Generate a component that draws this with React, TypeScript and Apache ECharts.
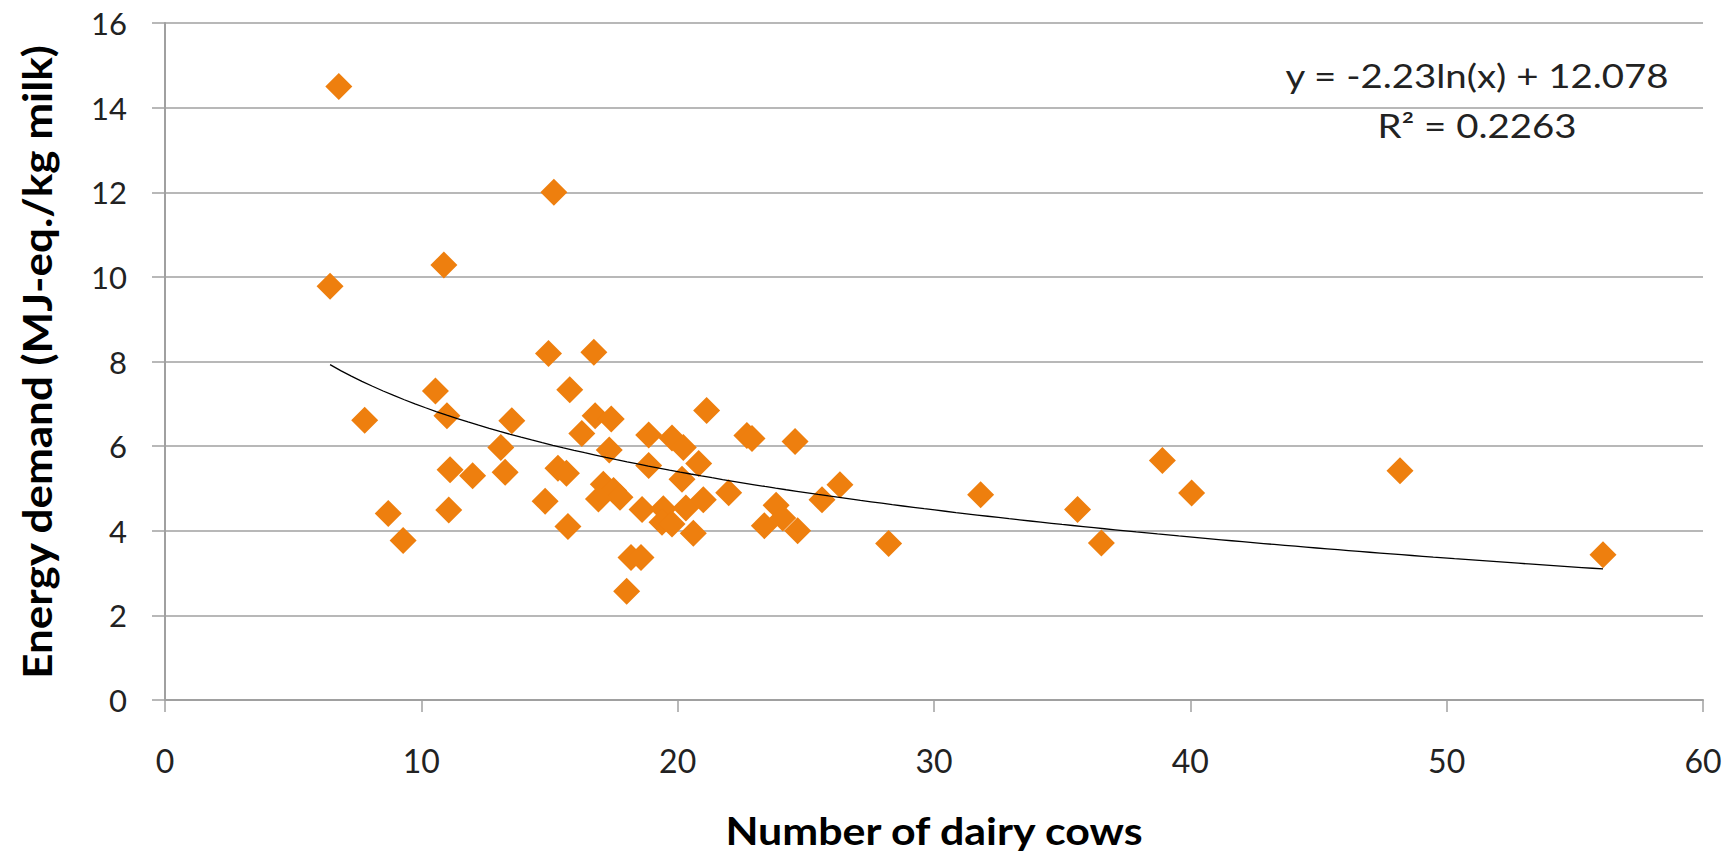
import React, { useEffect, useRef } from "react";
import * as echarts from "echarts";

const xTitle = "Number of dairy cows";
const yTitle = "Energy demand (MJ-eq./kg milk)";
const equationText = "y = -2.23ln(x) + 12.078";
const r2Text = "R² = 0.2263";

const cows: number[] = [
  6.78, 6.44, 15.17, 10.88, 14.96, 16.73, 10.55, 15.79, 7.79, 11.0,
  13.53, 16.78, 17.41, 16.26, 21.13, 18.87, 19.78, 20.22, 22.7, 22.9,
  24.58, 17.33, 13.1, 13.27, 11.12, 12.0, 15.33, 15.66, 18.87, 20.82,
  20.17, 17.1, 17.5, 17.75, 16.91, 14.83, 18.61, 19.44, 19.39, 19.78,
  20.32, 21.0, 21.99, 20.61, 15.72, 18.18, 18.57, 18.01, 26.33, 25.63,
  23.84, 24.1, 23.38, 24.68, 28.23, 31.82, 35.6, 36.53, 38.91, 40.05,
  48.18, 56.1, 11.07, 8.71, 9.29,
];
const energy: number[] = [
  14.5, 9.78, 12.0, 10.28, 8.19, 8.22, 7.3, 7.33, 6.61, 6.72,
  6.6, 6.72, 6.64, 6.3, 6.84, 6.26, 6.19, 5.97, 6.25, 6.18,
  6.11, 5.91, 5.97, 5.38, 5.44, 5.3, 5.48, 5.36, 5.54, 5.59,
  5.22, 5.1, 4.95, 4.79, 4.75, 4.7, 4.5, 4.52, 4.2, 4.16,
  4.54, 4.73, 4.9, 3.94, 4.1, 3.37, 3.37, 2.57, 5.09, 4.73,
  4.6, 4.3, 4.12, 4.0, 3.7, 4.85, 4.5, 3.71, 5.66, 4.89,
  5.42, 3.43, 4.49, 4.41, 3.77,
];

// Trend line coefficients as stated on the chart: y = a*ln(x) + b
const trendA = -2.23;
const trendB = 12.078;

const xTicks = { min: 0, max: 60, interval: 10 };
const yTicks = { min: 0, max: 16, interval: 2 };

export default function App() {
  const ref = useRef<HTMLDivElement>(null);

  useEffect(() => {
    if (!ref.current) return;
    const chart = echarts.init(ref.current, undefined, { renderer: "svg" });

    const scatterData = cows.map((c, i) => [c, energy[i]]);
    const xMin = Math.min(...cows);
    const xMax = Math.max(...cows);
    const steps = 120;
    const trendData: number[][] = [];
    for (let i = 0; i <= steps; i++) {
      const x = xMin + ((xMax - xMin) * i) / steps;
      trendData.push([x, trendA * Math.log(x) + trendB]);
    }

    const font = "Lato, 'Open Sans', sans-serif";
    const gray = "#A0A0A0";

    chart.setOption({
      animation: false,
      backgroundColor: "#ffffff",
      grid: { left: 165, right: 30, top: 23, bottom: 160, containLabel: false },
      xAxis: {
        type: "value",
        min: xTicks.min,
        max: xTicks.max,
        interval: xTicks.interval,
        axisLine: { show: true, lineStyle: { color: gray, width: 2 } },
        axisTick: { show: true, length: 12, inside: false, lineStyle: { color: gray, width: 1.5 } },
        axisLabel: { fontFamily: font, fontSize: 32, color: "#222", margin: 44 },
        splitLine: { show: false },
      },
      yAxis: {
        type: "value",
        min: yTicks.min,
        max: yTicks.max,
        interval: yTicks.interval,
        axisLine: { show: true, lineStyle: { color: gray, width: 2 } },
        axisTick: { show: true, length: 13, inside: false, lineStyle: { color: gray, width: 1.5 } },
        axisLabel: { fontFamily: font, fontSize: 31, color: "#222", margin: 38 },
        splitLine: { show: true, lineStyle: { color: gray, width: 1.5 } },
      },
      series: [
        {
          type: "scatter",
          data: scatterData,
          symbol: "diamond",
          symbolSize: 27,
          itemStyle: { color: "#EE7F0E", opacity: 1 },
          z: 2,
        },
        {
          type: "line",
          data: trendData,
          showSymbol: false,
          smooth: false,
          lineStyle: { color: "#000", width: 1.3 },
          z: 3,
        },
      ],
      graphic: [
        {
          type: "text",
          x: 934,
          y: 830,
          scaleX: 1.1,
          style: {
            text: xTitle,
            fontFamily: font,
            fontSize: 39,
            fontWeight: "bold",
            fill: "#000",
            textAlign: "center",
            textVerticalAlign: "middle",
          },
        },
        {
          type: "text",
          x: 37,
          y: 362,
          rotation: Math.PI / 2,
          scaleX: 1.1,
          style: {
            text: yTitle,
            fontFamily: font,
            fontSize: 40,
            fontWeight: "bold",
            fill: "#000",
            textAlign: "center",
            textVerticalAlign: "middle",
          },
        },
        {
          type: "text",
          x: 1477,
          y: 76,
          scaleX: 1.2,
          style: {
            text: equationText,
            fontFamily: font,
            fontSize: 32,
            fill: "#222",
            textAlign: "center",
            textVerticalAlign: "middle",
          },
        },
        {
          type: "text",
          x: 1477,
          y: 126,
          scaleX: 1.2,
          style: {
            text: r2Text,
            fontFamily: font,
            fontSize: 32,
            fill: "#222",
            textAlign: "center",
            textVerticalAlign: "middle",
          },
        },
      ],
    });

    return () => chart.dispose();
  }, []);

  return (
    <div
      ref={ref}
      style={{ position: "fixed", left: 0, top: 0, width: 1733, height: 860, background: "#fff" }}
    />
  );
}
